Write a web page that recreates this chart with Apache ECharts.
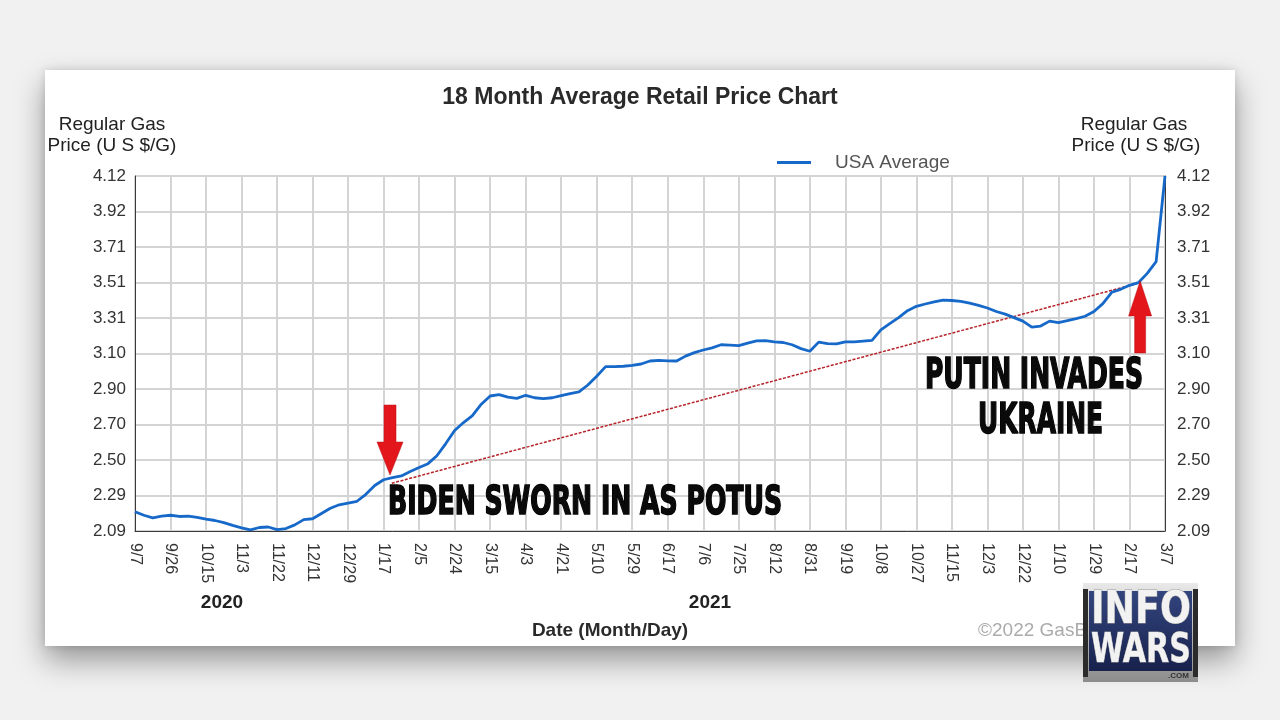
<!DOCTYPE html>
<html>
<head>
<meta charset="utf-8">
<script src="https://cdn.jsdelivr.net/npm/echarts@6/dist/echarts.min.js"></script>
<style>
  html, body { margin: 0; padding: 0; width: 1280px; height: 720px; overflow: hidden; background: #f1f1f1; }
  #card { position: absolute; left: 45px; top: 70px; width: 1190px; height: 576px; background: #fff;
          box-shadow: 0 14px 28px rgba(0,0,0,0.38), 0 0 8px rgba(0,0,0,0.12); }
  #chart { position: absolute; left: 0; top: 0; width: 1280px; height: 720px; }
</style>
</head>
<body>
<div id="card"></div>
<div id="chart"></div>
<script>
// ---------- data ----------
const xLabels = ['9/7','9/26','10/15','11/3','11/22','12/11','12/29','1/17','2/5','2/24','3/15','4/3','4/21','5/10','5/29','6/17','7/6','7/25','8/12','8/31','9/19','10/8','10/27','11/15','12/3','12/22','1/10','1/29','2/17','3/7'];
const yLabels = ['2.09','2.29','2.50','2.70','2.90','3.10','3.31','3.51','3.71','3.92','4.12'];
const yMin = 2.09;
const yMax = 4.12;
const yStep = 0.203;
const samplesPerInterval = 4;   // readings per x-label interval
const usaAverage = [
  2.20,2.18,2.165,2.175,2.18,2.173,2.175,2.168,2.158,2.15,
  2.138,2.122,2.108,2.096,2.11,2.113,2.098,2.104,2.125,2.155,
  2.16,2.19,2.22,2.24,2.25,2.26,2.30,2.35,2.383,2.395,
  2.405,2.43,2.453,2.475,2.52,2.59,2.665,2.71,2.75,2.815,
  2.862,2.87,2.856,2.848,2.866,2.852,2.847,2.852,2.864,2.876,
  2.885,2.925,2.975,3.03,3.03,3.032,3.037,3.045,3.062,3.066,
  3.063,3.062,3.09,3.11,3.125,3.137,3.155,3.153,3.15,3.164,
  3.177,3.178,3.172,3.168,3.155,3.133,3.118,3.17,3.162,3.16,
  3.172,3.172,3.176,3.18,3.24,3.276,3.31,3.35,3.375,3.388,
  3.40,3.41,3.408,3.403,3.393,3.38,3.365,3.345,3.33,3.31,
  3.29,3.256,3.262,3.29,3.282,3.293,3.305,3.318,3.345,3.39,
  3.455,3.472,3.495,3.51,3.563,3.63,4.12
];
const trendLine = [[7.23, 2.363], [28.3, 3.51]];   // red line drawn on the image
const bidenArrowTip = [7.18, 2.41];
const putinArrowTip = [28.3, 3.52];

// ---------- chart ----------
const chart = echarts.init(document.getElementById('chart'), null, { renderer: 'canvas' });
const FONT = '"Liberation Sans", Arial, sans-serif';
const yFmt = v => { const i = Math.round((v - yMin) / yStep); return yLabels[i] !== undefined ? yLabels[i] : ''; };
const xFmt = v => { const i = Math.round(v); return xLabels[i] !== undefined ? xLabels[i] : ''; };

const yAxisBase = {
  type: 'value', min: yMin, max: yMax, interval: yStep,
  axisLine: { show: true, lineStyle: { color: '#3a3a3a', width: 1 } },
  axisTick: { show: false },
  axisLabel: { formatter: yFmt, color: '#333', fontSize: 17, fontFamily: FONT }
};

chart.setOption({
  animation: false,
  backgroundColor: 'transparent',
  title: {
    text: '18 Month Average Retail Price Chart', left: 'center', top: 81,
    textStyle: { fontSize: 23, fontWeight: 'bold', color: '#2a2a2a', fontFamily: FONT }
  },
  legend: {
    left: 772, top: 148, icon: 'rect', itemWidth: 34, itemHeight: 3,
    data: ['USA Average'],
    textStyle: { fontSize: 19, color: '#555', fontFamily: FONT, padding: [0, 0, 0, 19] }
  },
  grid: { left: 135, top: 176, width: 1030, height: 355, show: true, backgroundColor: '#fff',
          borderColor: '#3a3a3a', borderWidth: 1, containLabel: false },
  xAxis: {
    type: 'value', min: 0, max: xLabels.length - 1, interval: 1,
    axisLine: { show: true, lineStyle: { color: '#3a3a3a', width: 1 } },
    axisTick: { show: false },
    splitLine: { show: true, lineStyle: { color: '#d4d4d4', width: 2 } },
    axisLabel: { formatter: xFmt, rotate: -90, margin: 12, color: '#333', fontSize: 16, fontFamily: FONT }
  },
  yAxis: [
    Object.assign({}, yAxisBase, { position: 'left',
      splitLine: { show: true, lineStyle: { color: '#d4d4d4', width: 2 } },
      axisLabel: Object.assign({}, yAxisBase.axisLabel, { margin: 9 }) }),
    Object.assign({}, yAxisBase, { position: 'right',
      splitLine: { show: false },
      axisLabel: Object.assign({}, yAxisBase.axisLabel, { margin: 12 }) })
  ],
  series: [
    {
      name: 'USA Average', type: 'line', showSymbol: false, smooth: false, z: 5,
      data: usaAverage.map((v, i) => [i / samplesPerInterval, v]),
      lineStyle: { color: '#1769c9', width: 2.8 },
      itemStyle: { color: '#1769c9' }
    },
    {
      name: 'trend', type: 'line', showSymbol: false, z: 4, silent: true,
      data: trendLine,
      lineStyle: { color: '#b8232a', width: 1.5, type: [3, 1.5] },
      itemStyle: { color: '#b8232a' }
    }
  ]
});

// ---------- annotations ----------
const mctx = document.createElement('canvas').getContext('2d');
function fitText(text, left, centerY, targetW, size, extra) {
  const font = 'bold ' + size + 'px "DejaVu Sans Condensed", "DejaVu Sans", sans-serif';
  mctx.font = font;
  const w = mctx.measureText(text).width;
  return Object.assign({
    type: 'text', x: left, y: centerY, scaleX: targetW / w, z: 50,
    style: { text: text, x: 0, y: 0, font: font, fill: '#0a0a0a', stroke: '#000', lineWidth: 1.6,
             align: 'left', verticalAlign: 'middle', textAlign: 'left', textVerticalAlign: 'middle' }
  }, extra || {});
}
function arrow(tip, dir, len, headLen, shaftHalf, headHalf) {
  const [tx, ty] = chart.convertToPixel({ gridIndex: 0 }, tip);
  const s = dir; // -1: pointing down (body above), +1: pointing up (body below)
  const pts = [
    [tx - shaftHalf, ty + s * len], [tx + shaftHalf, ty + s * len],
    [tx + shaftHalf, ty + s * headLen], [tx + headHalf, ty + s * headLen],
    [tx, ty], [tx - headHalf, ty + s * headLen], [tx - shaftHalf, ty + s * headLen]
  ];
  return { type: 'polygon', z: 60, shape: { points: pts }, style: { fill: '#e3161c', stroke: '#b80f14', lineWidth: 0.5 } };
}
function label(text, x, y, opts) {
  return { type: 'text', x: x, y: y, z: 40,
    style: Object.assign({ text: text, font: '19px ' + FONT, fill: '#222', align: 'center', verticalAlign: 'middle',
      textAlign: 'center', textVerticalAlign: 'middle' }, opts || {}) };
}

const graphics = [
  label('Regular Gas', 112, 125),
  label('Price (U S $/G)', 112, 146),
  label('Regular Gas', 1134, 125),
  label('Price (U S $/G)', 1136, 146),
  label('2020', 222, 603, { font: 'bold 19px ' + FONT, fill: '#222' }),
  label('2021', 710, 603, { font: 'bold 19px ' + FONT, fill: '#222' }),
  label('Date (Month/Day)', 610, 631, { font: 'bold 19px ' + FONT, fill: '#2a2a2a' }),
  label('©2022 GasBuddy', 978, 631, { font: '19px ' + FONT, fill: '#ababab', align: 'left', textAlign: 'left' }),
  arrow(bidenArrowTip, -1, 70, 33, 6, 13),
  arrow(putinArrowTip, 1, 72, 35, 5.5, 11.5),
  fitText('BIDEN SWORN IN AS POTUS', 388, 504, 394, 39),
  fitText('PUTIN INVADES', 925, 377, 218, 42),
  fitText('UKRAINE', 978, 422, 125, 42)
];

// Infowars logo (overlay on the screenshot)
const lx = 1083, ly = 583;
mctx.font = 'bold 46px "DejaVu Sans Condensed", sans-serif';
const infoW = mctx.measureText('INFO').width;
const warsW = mctx.measureText('WARS').width;
graphics.push({
  type: 'group', x: lx, y: ly, z: 100, children: [
    { type: 'rect', z: 100, shape: { x: 0, y: 0, width: 115, height: 99 },
      style: { fill: new echarts.graphic.LinearGradient(0, 0, 0, 1, [{ offset: 0, color: '#e9e9e9' }, { offset: 0.5, color: '#b9b9b9' }, { offset: 1, color: '#8c8c8c' }]) } },
    { type: 'rect', z: 101, shape: { x: 0, y: 6, width: 5, height: 88 }, style: { fill: '#2b2b2b' } },
    { type: 'rect', z: 101, shape: { x: 110, y: 6, width: 5, height: 88 }, style: { fill: '#2b2b2b' } },
    { type: 'rect', z: 101, shape: { x: 6, y: 8, width: 103, height: 80 },
      style: { fill: new echarts.graphic.LinearGradient(0, 0, 0, 1, [{ offset: 0, color: '#33457f' }, { offset: 1, color: '#17214b' }]) } },
    { type: 'text', z: 102, x: 8, y: 29, scaleX: 100 / infoW, scaleY: 0.95,
      style: { text: 'INFO', x: 0, y: 0, font: 'bold 46px "DejaVu Sans Condensed", sans-serif', fill: '#f2f2f2', stroke: '#9a9a9a', lineWidth: 1,
               align: 'left', verticalAlign: 'middle', textAlign: 'left', textVerticalAlign: 'middle' } },
    { type: 'text', z: 102, x: 8, y: 68, scaleX: 100 / warsW, scaleY: 0.9,
      style: { text: 'WARS', x: 0, y: 0, font: 'bold 46px "DejaVu Sans Condensed", sans-serif', fill: '#f2f2f2', stroke: '#9a9a9a', lineWidth: 1,
               align: 'left', verticalAlign: 'middle', textAlign: 'left', textVerticalAlign: 'middle' } },
    { type: 'text', z: 102, x: 106, y: 93,
      style: { text: '.COM', x: 0, y: 0, font: 'bold 8px ' + FONT, fill: '#333',
               align: 'right', verticalAlign: 'middle', textAlign: 'right', textVerticalAlign: 'middle' } }
  ]
});

chart.setOption({ graphic: graphics });
</script>
</body>
</html>
